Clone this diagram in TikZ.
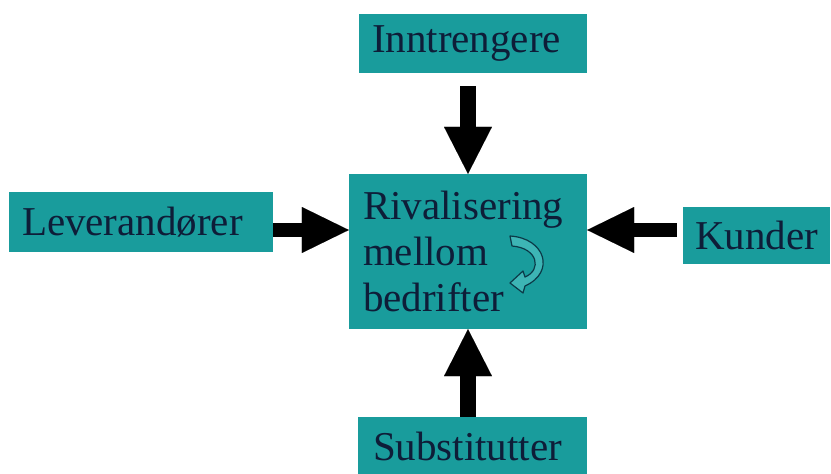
\documentclass[tikz,border=0pt]{standalone}
\usepackage{fontspec}
\setmainfont{Liberation Serif}
\usetikzlibrary{arrows.meta}
\definecolor{boxteal}{HTML}{199C9C}
\definecolor{boxtext}{HTML}{0E1D38}
\definecolor{curlfill}{HTML}{3DB5B5}
\definecolor{curlline}{HTML}{0B3A48}
\tikzset{
  force/.style={fill=boxteal, draw=none, text=boxtext, inner sep=0pt, align=left,
    font=\fontsize{41}{46}\selectfont},
  vblock/.style={line width=16pt, draw=black,
    -{Triangle[length=47pt,width=48pt,line width=0.01pt]}},
  hblock/.style={line width=14pt, draw=black,
    -{Triangle[length=47pt,width=46pt,line width=0.01pt]}},
}
\begin{document}
\begin{tikzpicture}[x=1pt,y=-1pt]
\useasboundingbox (0,0) rectangle (831,474);
\node[force, minimum width=228pt, minimum height=59pt, text width=202pt] (top) at (473,43.5) {Inntrengere};
\node[force, minimum width=238pt, minimum height=155pt, text width=210pt] (center) at (468,251.5) {Rivalisering\\mellom\\bedrifter};
\node[force, minimum width=229pt, minimum height=59pt, text width=199pt] (bottom) at (472.5,446.5) {Substitutter};
\node[force, minimum width=264pt, minimum height=60pt, text width=238pt] (left) at (141,222) {Leverandører};
\node[force, minimum width=147pt, minimum height=57pt, text width=123pt] (right) at (756.5,235.5) {Kunder};

\draw[vblock, shorten <=13pt] (center.north |- top.south) -- (center.north);
\draw[vblock] (center.south |- bottom.north) -- (center.south);
\draw[hblock] ([yshift=-8pt]left.east) -- ([yshift=-8pt]left.east -| center.west);
\draw[hblock, shorten <=6pt] ([yshift=5.5pt]right.west) -- ([yshift=5.5pt]right.west -| center.east);

% curved arrow inside the centre box
\draw[fill=curlfill, draw=curlline, line width=1.2pt, line join=round]
  (510,236) .. controls (545,238) and (556,272) .. (525,286)
  -- (523,293) -- (510,283) -- (523,271) -- (525,277)
  .. controls (542,270) and (538,248) .. (512,246) -- cycle;
\end{tikzpicture}
\end{document}
